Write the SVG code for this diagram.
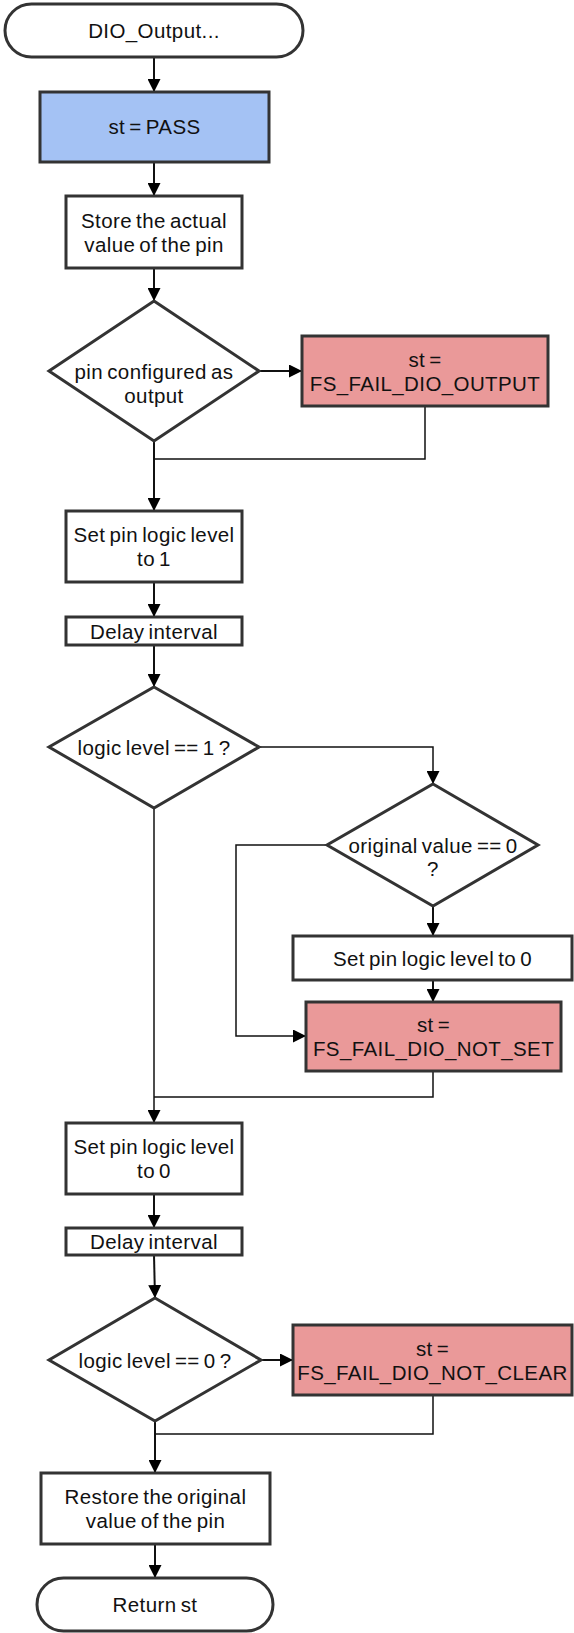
<svg xmlns="http://www.w3.org/2000/svg" width="574" height="1633" viewBox="0 0 574 1633">
<style>
.n{stroke:#333333;stroke-width:3;fill:#ffffff}
.blue{fill:#a4c2f4}
.red{fill:#ea9999}
.t{font-family:"Liberation Sans",Arial,sans-serif;font-size:20.5px;fill:#111111;text-anchor:middle;letter-spacing:0.4px;word-spacing:-2px}
.c{fill:none;stroke:#111111;stroke-width:2}
.m{fill:none;stroke:#111111;stroke-width:1.5}
</style>
<defs>
<marker id="ah" markerUnits="userSpaceOnUse" markerWidth="13" markerHeight="13" viewBox="0 0 13 13" refX="13" refY="6.5" orient="auto">
<path d="M0,0 L13,6.5 L0,13 z" fill="#000000"/>
</marker>
</defs>
<g id="connectors">
<path class="c" d="M154,57 V92" marker-end="url(#ah)"/>
<path class="c" d="M154,162 V196" marker-end="url(#ah)"/>
<path class="c" d="M154,268 V301" marker-end="url(#ah)"/>
<path class="c" d="M259,371 H302" marker-end="url(#ah)"/>
<path class="c" d="M154,441 V511" marker-end="url(#ah)"/>
<path class="m" d="M425,406 V459 H154"/>
<path class="c" d="M154,582 V617" marker-end="url(#ah)"/>
<path class="c" d="M154,645 V687" marker-end="url(#ah)"/>
<path class="m" d="M259,747 H433 V784" marker-end="url(#ah)"/>
<path class="m" d="M154,808 V1123" marker-end="url(#ah)"/>
<path class="c" d="M433,906 V936" marker-end="url(#ah)"/>
<path class="m" d="M327,845 H236 V1036 H306" marker-end="url(#ah)"/>
<path class="c" d="M433,980 V1002" marker-end="url(#ah)"/>
<path class="m" d="M433,1071 V1097 H154"/>
<path class="c" d="M154,1194 V1228" marker-end="url(#ah)"/>
<path class="c" d="M154,1255 L155,1298" marker-end="url(#ah)"/>
<path class="c" d="M261,1360 H293" marker-end="url(#ah)"/>
<path class="c" d="M155,1421 V1473" marker-end="url(#ah)"/>
<path class="m" d="M433,1395 V1434 H155"/>
<path class="c" d="M155,1544 V1578" marker-end="url(#ah)"/>
</g>
<g id="start">
<rect class="n" x="5" y="4" width="298" height="53" rx="26.5"/>
<text class="t" x="154" y="38">DIO_Output...</text>
</g>
<g id="st_pass">
<rect class="n blue" x="40" y="92" width="229" height="70"/>
<text class="t" x="154.5" y="134">st = PASS</text>
</g>
<g id="store">
<rect class="n" x="66" y="196" width="176" height="72"/>
<text class="t" x="154" y="227.5">Store the actual</text>
<text class="t" x="154" y="251.5">value of the pin</text>
</g>
<g id="dec_output">
<polygon class="n" points="154,301 259,371 154,441 49,371"/>
<text class="t" x="154" y="379">pin configured as</text>
<text class="t" x="154" y="403">output</text>
</g>
<g id="fail_output">
<rect class="n red" x="302" y="336" width="246" height="70"/>
<text class="t" x="425" y="366.5">st =</text>
<text class="t" x="425" y="390.5">FS_FAIL_DIO_OUTPUT</text>
</g>
<g id="set1">
<rect class="n" x="66" y="511" width="176" height="71"/>
<text class="t" x="154" y="541.5">Set pin logic level</text>
<text class="t" x="154" y="565.5">to 1</text>
</g>
<g id="delay1">
<rect class="n" x="66" y="617" width="176" height="28"/>
<text class="t" x="154" y="638.5">Delay interval</text>
</g>
<g id="dec_level1">
<polygon class="n" points="154,687 259,747 154,808 49,747"/>
<text class="t" x="154" y="755">logic level == 1 ?</text>
</g>
<g id="dec_orig">
<polygon class="n" points="433,784 538,845 433,906 327,845"/>
<text class="t" x="433" y="852.5">original value == 0</text>
<text class="t" x="433" y="876">?</text>
</g>
<g id="set0_right">
<rect class="n" x="293" y="936" width="279" height="44"/>
<text class="t" x="432.5" y="965.5">Set pin logic level to 0</text>
</g>
<g id="fail_not_set">
<rect class="n red" x="306" y="1002" width="255" height="69"/>
<text class="t" x="433.5" y="1032">st =</text>
<text class="t" x="433.5" y="1056">FS_FAIL_DIO_NOT_SET</text>
</g>
<g id="set0">
<rect class="n" x="66" y="1123" width="176" height="71"/>
<text class="t" x="154" y="1154">Set pin logic level</text>
<text class="t" x="154" y="1178">to 0</text>
</g>
<g id="delay2">
<rect class="n" x="66" y="1228" width="176" height="27"/>
<text class="t" x="154" y="1249">Delay interval</text>
</g>
<g id="dec_level0">
<polygon class="n" points="155,1298 261,1360 155,1421 49,1360"/>
<text class="t" x="155" y="1367.5">logic level == 0 ?</text>
</g>
<g id="fail_not_clear">
<rect class="n red" x="293" y="1325" width="279" height="70"/>
<text class="t" x="432.5" y="1355.5">st =</text>
<text class="t" x="432.5" y="1379.5">FS_FAIL_DIO_NOT_CLEAR</text>
</g>
<g id="restore">
<rect class="n" x="41" y="1473" width="229" height="71"/>
<text class="t" x="155.5" y="1504">Restore the original</text>
<text class="t" x="155.5" y="1528">value of the pin</text>
</g>
<g id="return">
<rect class="n" x="37" y="1578" width="236" height="53" rx="26.5"/>
<text class="t" x="155" y="1612">Return st</text>
</g>
</svg>
